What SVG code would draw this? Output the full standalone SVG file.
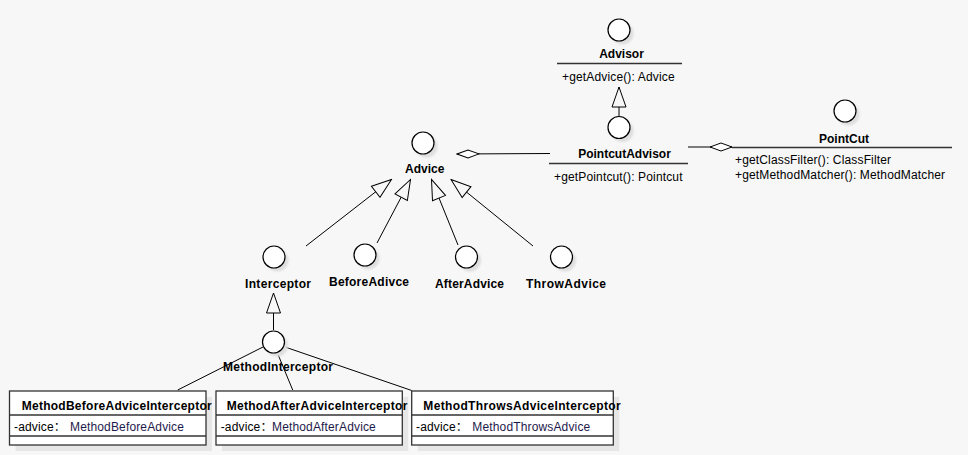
<svg xmlns="http://www.w3.org/2000/svg" width="968" height="455" viewBox="0 0 968 455">
<style>
.t{font-family:"Liberation Sans",Arial,"Noto Sans CJK SC",sans-serif;font-size:12px;fill:#000}
.r{letter-spacing:0.15px}
.b{font-weight:bold}
.ty{fill:#1e1a4c}
.ln{stroke:#000;stroke-width:1;fill:none}
.sep{stroke:#333;stroke-width:1.3}
.ci{fill:#fff;stroke:#000;stroke-width:1.2}
.sh{fill:#dedede;filter:url(#blur)}
.box{fill:#fff;stroke:#333;stroke-width:1.3}
.bsh{fill:#e6e6e6}
</style>
<defs>
<filter id="blur" x="-50%" y="-50%" width="200%" height="200%"><feGaussianBlur stdDeviation="1.2"/></filter>
<marker id="gen" markerUnits="userSpaceOnUse" markerWidth="22" markerHeight="16" viewBox="0 0 22 16" refX="21" refY="8" orient="auto">
<path d="M1,1 L21,8 L1,15 Z" fill="#f7f7f7" stroke="#000" stroke-width="1"/>
</marker>
<marker id="dia" markerUnits="userSpaceOnUse" markerWidth="24" markerHeight="10" viewBox="0 0 24 10" refX="23" refY="5" orient="auto">
<path d="M1,5 L12,1 L23,5 L12,9 Z" fill="#fff" stroke="#000" stroke-width="1"/>
</marker>
</defs>
<rect width="968" height="455" fill="#f7f7f7"/>

<g id="connectors">
<line class="ln" x1="619" y1="117" x2="619" y2="87" marker-end="url(#gen)"/>
<line class="ln" x1="550" y1="153.5" x2="457" y2="154" marker-end="url(#dia)"/>
<line class="ln" x1="688" y1="147" x2="732" y2="147" marker-end="url(#dia)"/>
<line class="ln" x1="306" y1="246" x2="391.5" y2="179.5" marker-end="url(#gen)"/>
<line class="ln" x1="377" y1="243" x2="410.5" y2="179.5" marker-end="url(#gen)"/>
<line class="ln" x1="458" y1="245" x2="431.5" y2="179.5" marker-end="url(#gen)"/>
<line class="ln" x1="533" y1="246" x2="451" y2="179.5" marker-end="url(#gen)"/>
<line class="ln" x1="273.5" y1="330" x2="273.5" y2="293" marker-end="url(#gen)"/>
<line class="ln" x1="263" y1="347" x2="177.7" y2="390"/>
<line class="ln" x1="277" y1="352" x2="292.7" y2="390"/>
<line class="ln" x1="285" y1="347" x2="411.7" y2="390.5"/>
</g>

<g id="advisor">
<circle class="sh" cx="622.5" cy="33.5" r="11"/>
<circle class="ci" cx="619" cy="30" r="11"/>
<text class="t b" x="621.5" y="58" text-anchor="middle">Advisor</text>
<line class="sep" x1="557" y1="63.5" x2="682" y2="63.5"/>
<text class="t r" x="562" y="81">+getAdvice(): Advice</text>
</g>

<g id="pointcutadvisor">
<circle class="sh" cx="622.5" cy="131" r="11"/>
<circle class="ci" cx="619" cy="127.5" r="11"/>
<text class="t b" x="624.5" y="158" text-anchor="middle">PointcutAdvisor</text>
<line class="sep" x1="549" y1="163.5" x2="688" y2="163.5"/>
<text class="t r" x="554" y="181">+getPointcut(): Pointcut</text>
</g>

<g id="pointcut">
<circle class="sh" cx="848.5" cy="114.5" r="11"/>
<circle class="ci" cx="845" cy="111" r="11"/>
<text class="t b" x="844" y="143" text-anchor="middle">PointCut</text>
<line class="sep" x1="732" y1="147.5" x2="952" y2="147.5"/>
<text class="t r" x="735" y="164">+getClassFilter(): ClassFilter</text>
<text class="t r" x="735" y="179">+getMethodMatcher(): MethodMatcher</text>
</g>

<g id="advice">
<circle class="sh" cx="426.5" cy="146.5" r="11"/>
<circle class="ci" cx="423" cy="143" r="11"/>
<text class="t b" x="405" y="173">Advice</text>
</g>

<g id="interceptor">
<circle class="sh" cx="277.5" cy="260.5" r="11"/>
<circle class="ci" cx="274" cy="257" r="11"/>
<text class="t b" x="245" y="288" textLength="66" lengthAdjust="spacing">Interceptor</text>
</g>

<g id="beforeadvice">
<circle class="sh" cx="368.5" cy="258.5" r="11"/>
<circle class="ci" cx="365" cy="255" r="11"/>
<text class="t b" x="329" y="285.5" textLength="80" lengthAdjust="spacing">BeforeAdivce</text>
</g>

<g id="afteradvice">
<circle class="sh" cx="470" cy="260.5" r="11"/>
<circle class="ci" cx="466.5" cy="257" r="11"/>
<text class="t b" x="435" y="288" textLength="69" lengthAdjust="spacing">AfterAdvice</text>
</g>

<g id="throwadvice">
<circle class="sh" cx="565" cy="260.5" r="11"/>
<circle class="ci" cx="561.5" cy="257" r="11"/>
<text class="t b" x="526" y="288" textLength="80" lengthAdjust="spacing">ThrowAdvice</text>
</g>

<g id="methodinterceptor">
<circle class="sh" cx="277" cy="345.5" r="11"/>
<circle class="ci" cx="273.5" cy="342" r="11"/>
<text class="t b" x="223" y="371" textLength="110" lengthAdjust="spacing">MethodInterceptor</text>
</g>

<g id="methodbeforeadviceinterceptor">
<rect class="bsh" x="15.5" y="397" width="196.5" height="54"/>
<rect class="box" x="9.5" y="391" width="196.5" height="54"/>
<line class="sep" x1="9.5" y1="415" x2="206" y2="415"/>
<line class="sep" x1="9.5" y1="436" x2="206" y2="436"/>
<text class="t b" x="21.7" y="410" textLength="190" lengthAdjust="spacing">MethodBeforeAdviceInterceptor</text>
<text class="t r" x="14" y="431">-advice：</text>
<text class="t r ty" x="70" y="431">MethodBeforeAdvice</text>
</g>

<g id="methodafteradviceinterceptor">
<rect class="bsh" x="222" y="397" width="186.3" height="54"/>
<rect class="box" x="216" y="391" width="186.3" height="54"/>
<line class="sep" x1="216" y1="415" x2="402.3" y2="415"/>
<line class="sep" x1="216" y1="436" x2="402.3" y2="436"/>
<text class="t b" x="226.7" y="410" textLength="180.6" lengthAdjust="spacing">MethodAfterAdviceInterceptor</text>
<text class="t r" x="220.7" y="431">-advice：</text>
<text class="t r ty" x="272" y="431">MethodAfterAdvice</text>
</g>

<g id="methodthrowsadviceinterceptor">
<rect class="bsh" x="417.7" y="397" width="201.6" height="54"/>
<rect class="box" x="411.7" y="391" width="201.6" height="54"/>
<line class="sep" x1="411.7" y1="415" x2="613.3" y2="415"/>
<line class="sep" x1="411.7" y1="436" x2="613.3" y2="436"/>
<text class="t b" x="423.3" y="410" textLength="197.4" lengthAdjust="spacing">MethodThrowsAdviceInterceptor</text>
<text class="t r" x="416" y="431">-advice：</text>
<text class="t r ty" x="472.3" y="431">MethodThrowsAdvice</text>
</g>
</svg>
